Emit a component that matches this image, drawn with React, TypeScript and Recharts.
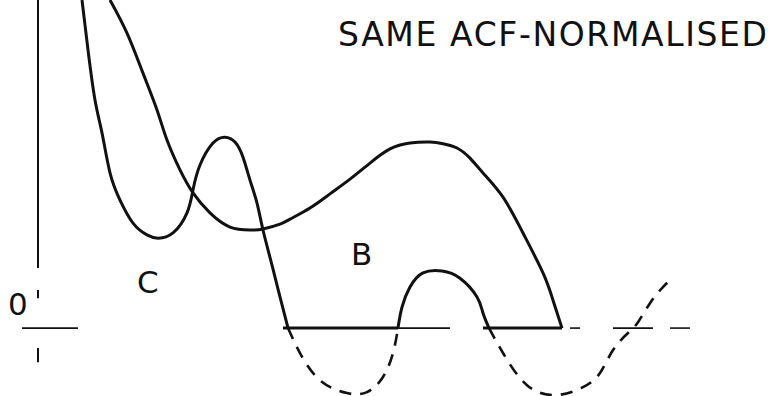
import React from 'react';
import {
  ComposedChart,
  Line,
  XAxis,
  YAxis,
  ReferenceLine,
  Customized,
} from 'recharts';

// Lag in arbitrary units (axis at 0), ACF normalised so the top edge is 1.0
type Pt = { lag: number; acf: number };

// Curve C, positive lobe down to the first zero crossing
const C_HEAD: Pt[] = [
  { lag: 0.88, acf: 1.0 },
  { lag: 1.0, acf: 0.848 },
  { lag: 1.14, acf: 0.695 },
  { lag: 1.28, acf: 0.595 },
  { lag: 1.44, acf: 0.473 },
  { lag: 1.64, acf: 0.39 },
  { lag: 1.9, acf: 0.32 },
  { lag: 2.18, acf: 0.284 },
  { lag: 2.4, acf: 0.274 },
  { lag: 2.7, acf: 0.29 },
  { lag: 2.98, acf: 0.351 },
  { lag: 3.1, acf: 0.421 },
  { lag: 3.24, acf: 0.497 },
  { lag: 3.5, acf: 0.564 },
  { lag: 3.74, acf: 0.582 },
  { lag: 3.94, acf: 0.567 },
  { lag: 4.1, acf: 0.521 },
  { lag: 4.24, acf: 0.451 },
  { lag: 4.38, acf: 0.381 },
  { lag: 4.5, acf: 0.299 },
  { lag: 4.68, acf: 0.192 },
  { lag: 4.84, acf: 0.095 },
  { lag: 5.0, acf: 0 },
];

// Curve C, first negative trough (dashed)
const C_TROUGH_1: Pt[] = [
  { lag: 5.0, acf: 0 },
  { lag: 5.24, acf: -0.076 },
  { lag: 5.64, acf: -0.159 },
  { lag: 6.18, acf: -0.198 },
  { lag: 6.58, acf: -0.195 },
  { lag: 6.9, acf: -0.149 },
  { lag: 7.1, acf: -0.076 },
  { lag: 7.2, acf: 0 },
];

// Curve C, second positive bump
const C_BUMP: Pt[] = [
  { lag: 7.2, acf: 0 },
  { lag: 7.28, acf: 0.064 },
  { lag: 7.44, acf: 0.125 },
  { lag: 7.7, acf: 0.168 },
  { lag: 8.08, acf: 0.174 },
  { lag: 8.44, acf: 0.152 },
  { lag: 8.78, acf: 0.095 },
  { lag: 8.9, acf: 0.046 },
  { lag: 9.02, acf: 0 },
];

// Curve C, second negative trough and the rise after it (dashed)
const C_TROUGH_2: Pt[] = [
  { lag: 9.02, acf: 0 },
  { lag: 9.3, acf: -0.076 },
  { lag: 9.78, acf: -0.174 },
  { lag: 10.38, acf: -0.204 },
  { lag: 10.9, acf: -0.18 },
  { lag: 11.24, acf: -0.137 },
  { lag: 11.5, acf: -0.067 },
  { lag: 11.8, acf: -0.015 },
  { lag: 12.0, acf: 0.018 },
  { lag: 12.24, acf: 0.076 },
  { lag: 12.48, acf: 0.122 },
  { lag: 12.68, acf: 0.152 },
];

// Curve B
const B_CURVE: Pt[] = [
  { lag: 1.44, acf: 1.0 },
  { lag: 1.78, acf: 0.899 },
  { lag: 2.1, acf: 0.777 },
  { lag: 2.38, acf: 0.665 },
  { lag: 2.58, acf: 0.573 },
  { lag: 2.84, acf: 0.482 },
  { lag: 3.1, acf: 0.412 },
  { lag: 3.44, acf: 0.351 },
  { lag: 3.84, acf: 0.308 },
  { lag: 4.24, acf: 0.299 },
  { lag: 4.5, acf: 0.302 },
  { lag: 4.84, acf: 0.317 },
  { lag: 5.04, acf: 0.332 },
  { lag: 5.44, acf: 0.366 },
  { lag: 5.84, acf: 0.409 },
  { lag: 6.24, acf: 0.454 },
  { lag: 6.64, acf: 0.503 },
  { lag: 7.04, acf: 0.546 },
  { lag: 7.44, acf: 0.564 },
  { lag: 7.84, acf: 0.567 },
  { lag: 8.1, acf: 0.562 },
  { lag: 8.38, acf: 0.549 },
  { lag: 8.64, acf: 0.518 },
  { lag: 8.9, acf: 0.473 },
  { lag: 9.3, acf: 0.399 },
  { lag: 9.7, acf: 0.29 },
  { lag: 10.1, acf: 0.168 },
  { lag: 10.3, acf: 0.085 },
  { lag: 10.48, acf: 0 },
];

// Zero-line pieces: [from lag, to lag]
const ZERO_THICK: [number, number][] = [
  [4.9, 7.2],
  [8.9, 10.48],
];
const ZERO_THIN: [number, number][] = [
  [-0.32, 0.8],
  [7.2, 8.24],
];
const ZERO_DASHES: [number, number][] = [
  [10.64, 10.84],
  [11.5, 12.3],
  [12.64, 13.04],
];

// Vertical axis pieces: [from acf, to acf]
const AXIS_PIECES: [number, number][] = [
  [1.0, 0.183],
  [0.116, 0.091],
  [-0.061, -0.104],
];

const INK = '#111';
const FONT = '"DejaVu Sans", sans-serif';

const Labels = () => (
  <g fontFamily={FONT} fill={INK}>
    <text x={338} y={46} fontSize={33} textLength={429} lengthAdjust="spacing">
      SAME ACF-NORMALISED
    </text>
    <text x={351} y={265} fontSize={31}>B</text>
    <text x={137} y={293} fontSize={31}>C</text>
    <text x={8} y={315} fontSize={31}>0</text>
  </g>
);

const solid = (data: Pt[], key: string) => (
  <Line
    key={key}
    data={data}
    dataKey="acf"
    type="natural"
    stroke={INK}
    strokeWidth={3}
    dot={false}
    activeDot={false}
    isAnimationActive={false}
  />
);

const dashed = (data: Pt[], key: string) => (
  <Line
    key={key}
    data={data}
    dataKey="acf"
    type="natural"
    stroke={INK}
    strokeWidth={2.6}
    strokeDasharray="12 9"
    dot={false}
    activeDot={false}
    isAnimationActive={false}
  />
);

export default function App() {
  return (
    <div style={{ position: 'absolute', left: 0, top: 0, background: '#fff' }}>
      <ComposedChart width={777} height={396} margin={{ top: 0, right: 0, bottom: 0, left: 0 }}>
        <XAxis dataKey="lag" type="number" domain={[-0.76, 14.78]} allowDataOverflow hide />
        <YAxis type="number" domain={[-0.207, 1]} allowDataOverflow hide />

        {AXIS_PIECES.map(([a, b], i) => (
          <ReferenceLine
            key={`ax${i}`}
            segment={[{ x: 0, y: a }, { x: 0, y: b }]}
            stroke={INK}
            strokeWidth={2}
          />
        ))}
        {ZERO_THIN.map(([a, b], i) => (
          <ReferenceLine
            key={`zt${i}`}
            segment={[{ x: a, y: 0 }, { x: b, y: 0 }]}
            stroke={INK}
            strokeWidth={1.6}
          />
        ))}
        {ZERO_THICK.map(([a, b], i) => (
          <ReferenceLine
            key={`zk${i}`}
            segment={[{ x: a, y: 0 }, { x: b, y: 0 }]}
            stroke={INK}
            strokeWidth={3}
          />
        ))}
        {ZERO_DASHES.map(([a, b], i) => (
          <ReferenceLine
            key={`zd${i}`}
            segment={[{ x: a, y: 0 }, { x: b, y: 0 }]}
            stroke={INK}
            strokeWidth={1.6}
          />
        ))}

        {solid(C_HEAD, 'c1')}
        {dashed(C_TROUGH_1, 'c2')}
        {solid(C_BUMP, 'c3')}
        {dashed(C_TROUGH_2, 'c4')}
        {solid(B_CURVE, 'b')}

        <Customized component={Labels} />
      </ComposedChart>
    </div>
  );
}
